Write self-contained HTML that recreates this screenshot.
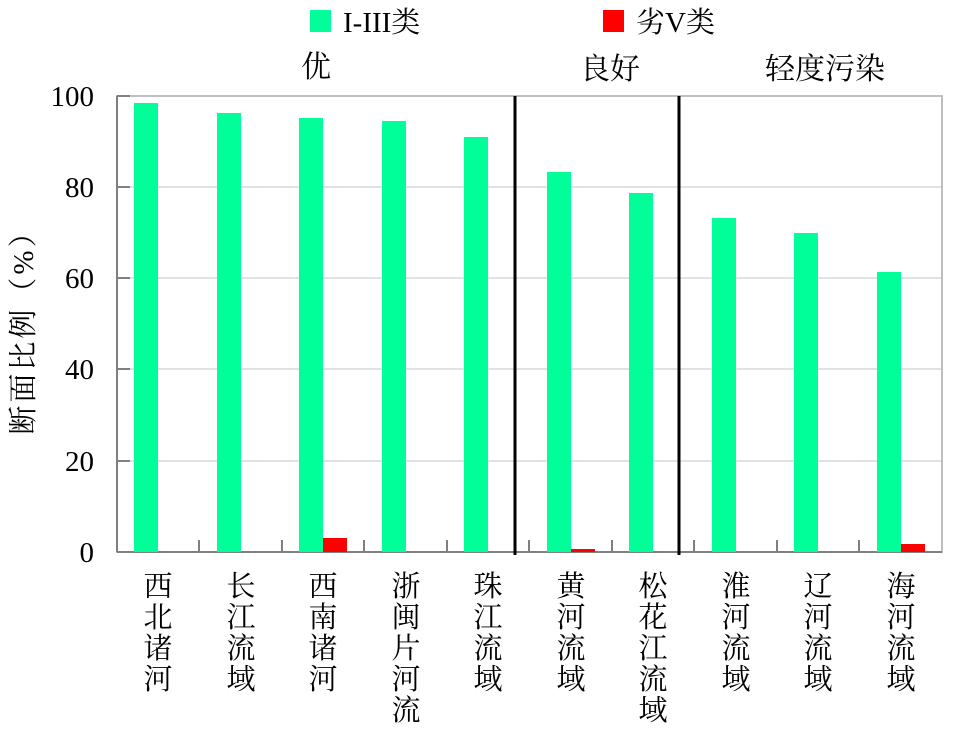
<!DOCTYPE html>
<html><head><meta charset="utf-8"><style>body{margin:0;background:#fff}svg{display:block}text{font-family:"Liberation Serif","Noto Serif CJK SC","Noto Sans CJK SC",serif;fill:#000}</style></head>
<body>
<svg width="959" height="750" viewBox="0 0 959 750" xmlns="http://www.w3.org/2000/svg">
<g stroke="#d9d9d9" stroke-width="1.5">
<line x1="117" y1="187" x2="942" y2="187"/><line x1="117" y1="278" x2="942" y2="278"/><line x1="117" y1="369" x2="942" y2="369"/><line x1="117" y1="461" x2="942" y2="461"/>
</g>
<rect x="117" y="96" width="825" height="456" fill="none" stroke="#bfbfbf" stroke-width="2"/>
<g stroke="#808080" stroke-width="2">
<line x1="117" y1="96" x2="117" y2="552"/><line x1="117" y1="552" x2="942" y2="552"/>
<line x1="117" y1="96" x2="130" y2="96"/><line x1="117" y1="187" x2="130" y2="187"/><line x1="117" y1="278" x2="130" y2="278"/><line x1="117" y1="369" x2="130" y2="369"/><line x1="117" y1="461" x2="130" y2="461"/>
<line x1="199" y1="540" x2="199" y2="552"/><line x1="282" y1="540" x2="282" y2="552"/><line x1="364" y1="540" x2="364" y2="552"/><line x1="447" y1="540" x2="447" y2="552"/><line x1="529" y1="540" x2="529" y2="552"/><line x1="612" y1="540" x2="612" y2="552"/><line x1="694" y1="540" x2="694" y2="552"/><line x1="777" y1="540" x2="777" y2="552"/><line x1="859" y1="540" x2="859" y2="552"/>
</g>
<g fill="#00ff99">
<rect x="134" y="103" width="24" height="449"/>
<rect x="217" y="113" width="24" height="439"/>
<rect x="299" y="118" width="24" height="434"/>
<rect x="382" y="121" width="24" height="431"/>
<rect x="464" y="137" width="24" height="415"/>
<rect x="547" y="172" width="24" height="380"/>
<rect x="629" y="193" width="24" height="359"/>
<rect x="712" y="218" width="24" height="334"/>
<rect x="794" y="233" width="24" height="319"/>
<rect x="877" y="272" width="24" height="280"/>
</g>
<g fill="#ff0000">
<rect x="323" y="538" width="24" height="14"/>
<rect x="571" y="549" width="24" height="3"/>
<rect x="901" y="544" width="24" height="8"/>
</g>
<g stroke="#000" stroke-width="3">
<line x1="515" y1="96" x2="515" y2="555"/><line x1="679" y1="96" x2="679" y2="555"/>
</g>
<g font-size="29" text-anchor="end">
<text x="94" y="106">100</text><text x="94" y="197">80</text><text x="94" y="288">60</text><text x="94" y="379">40</text><text x="94" y="471">20</text><text x="94" y="562">0</text>
</g>
<text transform="translate(33,325) rotate(-90)" font-size="29" text-anchor="middle" letter-spacing="3">断面比例（%）</text>
<rect x="310" y="10" width="21" height="22" fill="#00ff99"/>
<text x="343" y="32" font-size="29">I-III类</text>
<rect x="603" y="10" width="21" height="22" fill="#ff0000"/>
<text x="636" y="32" font-size="29">劣V类</text>
<g font-size="30" text-anchor="middle">
<text x="316" y="77">优</text><text x="610" y="79">良好</text><text x="825" y="79">轻度污染</text>
</g>
<g font-size="29" text-anchor="middle">
<text x="158" y="596">西</text><text x="158" y="627">北</text><text x="158" y="658">诸</text><text x="158" y="689">河</text>
<text x="241" y="596">长</text><text x="241" y="627">江</text><text x="241" y="658">流</text><text x="241" y="689">域</text>
<text x="323" y="596">西</text><text x="323" y="627">南</text><text x="323" y="658">诸</text><text x="323" y="689">河</text>
<text x="406" y="596">浙</text><text x="406" y="627">闽</text><text x="406" y="658">片</text><text x="406" y="689">河</text><text x="406" y="720">流</text>
<text x="488" y="596">珠</text><text x="488" y="627">江</text><text x="488" y="658">流</text><text x="488" y="689">域</text>
<text x="571" y="596">黄</text><text x="571" y="627">河</text><text x="571" y="658">流</text><text x="571" y="689">域</text>
<text x="653" y="596">松</text><text x="653" y="627">花</text><text x="653" y="658">江</text><text x="653" y="689">流</text><text x="653" y="720">域</text>
<text x="736" y="596">淮</text><text x="736" y="627">河</text><text x="736" y="658">流</text><text x="736" y="689">域</text>
<text x="818" y="596">辽</text><text x="818" y="627">河</text><text x="818" y="658">流</text><text x="818" y="689">域</text>
<text x="901" y="596">海</text><text x="901" y="627">河</text><text x="901" y="658">流</text><text x="901" y="689">域</text>
</g>
</svg>
</body></html>
